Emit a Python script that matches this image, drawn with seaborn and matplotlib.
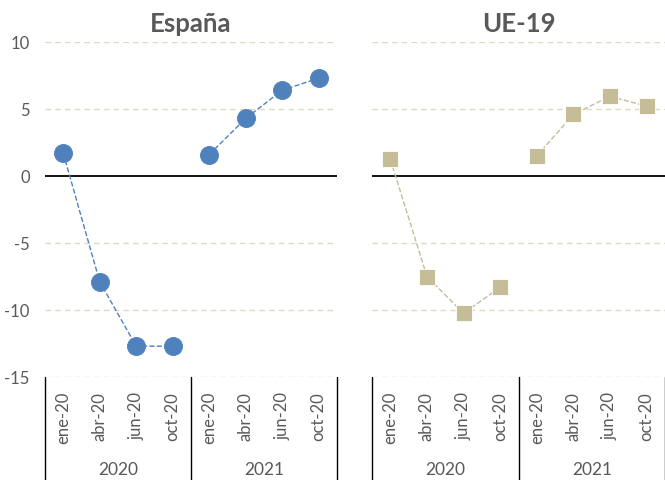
import pandas as pd
import matplotlib.pyplot as plt
import matplotlib.transforms as mtransforms
import seaborn as sns

# Datos
meses = ["ene-20", "abr-20", "jun-20", "oct-20", "ene-20", "abr-20", "jun-20", "oct-20"]
anios = ["2020", "2020", "2020", "2020", "2021", "2021", "2021", "2021"]
espana = [1.7, -7.9, -12.7, -12.7, 1.6, 4.3, 6.4, 7.3]
ue19 = [1.25, -7.5, -10.25, -8.3, 1.5, 4.6, 5.95, 5.2]
yticks = [-15, -10, -5, 0, 5, 10]

sns.set_theme(style="white")
plt.rcParams['font.family'] = ['Lato', 'DejaVu Sans']
plt.rcParams['axes.unicode_minus'] = False

gris = "#595959"
fig = plt.figure(figsize=(6.65, 4.81), dpi=100)
ax1 = fig.add_axes([45 / 665, 103 / 481, 292 / 665, 335 / 481])
ax2 = fig.add_axes([372 / 665, 103 / 481, 293 / 665, 335 / 481])


def panel(ax, valores, titulo, color, marker, ms, mec, show_y):
    df = pd.DataFrame({"pos": range(len(valores)), "valor": valores, "anio": anios})
    for y in yticks:
        if y == 0:
            ax.axhline(0, color="black", lw=1.3, zorder=1)
        else:
            ax.axhline(y, color="#DDD9C3", lw=1, ls=(0, (4, 3)), zorder=0)
    for anio, sub in df.groupby("anio"):
        sns.lineplot(data=sub, x="pos", y="valor", ax=ax, color=color,
                     linestyle="--", linewidth=1, marker=marker, markersize=ms,
                     markeredgecolor=mec, markeredgewidth=0.6, zorder=3)
    ax.set_xlim(-0.5, len(valores) - 0.5)
    ax.set_ylim(-15, 10)
    ax.set_yticks(yticks)
    ax.set_xticks(range(len(valores)))
    ax.set_xticklabels(meses, rotation=90, fontsize=12, color=gris)
    ax.tick_params(axis="x", length=0, pad=10)
    ax.tick_params(axis="y", length=0, pad=11, labelsize=12, labelcolor=gris,
                   labelleft=show_y)
    ax.set_xlabel("")
    ax.set_ylabel("")
    for s in ax.spines.values():
        s.set_visible(False)
    ax.set_title(titulo, fontsize=18.5, fontweight="bold", color=gris, pad=8)

    trans = mtransforms.blended_transform_factory(ax.transData, ax.transAxes)
    for xs in [-0.5, 3.5, 7.5]:
        ax.plot([xs, xs], [0, -0.31], transform=trans, color="black", lw=1,
                clip_on=False)
    for xc, lab in [(1.5, "2020"), (5.5, "2021")]:
        ax.text(xc, -0.275, lab, transform=trans, ha="center", va="center",
                fontsize=12.5, color=gris)


panel(ax1, espana, "España", "#4F81BD", "o", 13, "#4F81BD", True)
panel(ax2, ue19, "UE-19", "#C4BD97", "s", 12, "white", False)

fig.savefig("out.png", dpi=100)
